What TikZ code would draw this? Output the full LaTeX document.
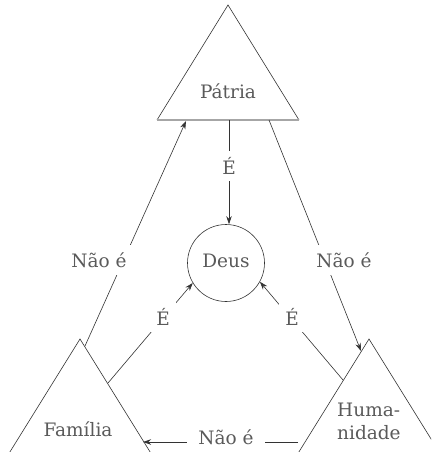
\documentclass[tikz,border=0pt]{standalone}
\usepackage{fontspec}
\setmainfont{DejaVu Serif}
\usetikzlibrary{arrows.meta}
\definecolor{txt}{HTML}{5A5A5A}
\definecolor{ln}{HTML}{333333}
\tikzset{
  edge/.style={draw=ln, line width=0.6pt},
  arr/.style={edge, -{Stealth[length=8pt,width=5.5pt]}},
  lab/.style={text=txt, font=\fontsize{18.5}{23}\selectfont, inner sep=0pt, anchor=base},
  elab/.style={lab, fill=white, inner xsep=6pt, inner ysep=6pt, anchor=center},
}
\begin{document}
\begin{tikzpicture}[x=1pt, y=-1pt]
\useasboundingbox (0,0) rectangle (431,452);
\fill[white] (0,0) rectangle (431,452);
% triangle vertices
\coordinate (pA) at (228,5);
\coordinate (pL) at (157,120);
\coordinate (pR) at (299,120);
\coordinate (fA) at (80,339);
\coordinate (fL) at (8,455);
\coordinate (fR) at (152,455);
\coordinate (hA) at (369,339);
\coordinate (hL) at (297,455);
\coordinate (hR) at (441,455);
\begin{scope}
\clip (0,0) rectangle (431,452);
\draw[edge] (pL) -- (pA) -- (pR);
\draw[draw=gray!70, line width=1.1pt] (pL) -- (pR);
\draw[edge] (fL) -- (fA) -- (fR);
\draw[edge] (hL) -- (hA) -- (hR);
\end{scope}
% texts
\node[lab] (patria) at (228,98) {Pátria};
\node[lab] (familia) at (78,436) {Família};
\node[lab, align=left, anchor=north west] (humanidade) at (337,403) {Huma-\\nidade};
\node[draw=ln, line width=0.6pt, circle, minimum size=77pt, text=txt,
      font=\fontsize{18.5}{23}\selectfont, text height=13.5pt, text depth=5pt, inner sep=0pt]
      (deus) at (226,263) {Deus};
% connector endpoints
\coordinate (p1) at (229,120);
\coordinate (pl) at (186,121);
\coordinate (pr) at (269,120);
\coordinate (f1) at (85,346);
\coordinate (f2) at (108,383);
\coordinate (f3) at (143,442);
\coordinate (h1) at (361,351);
\coordinate (h2) at (343,380);
\coordinate (h3) at (298,442);
% connectors
\draw[arr] (p1) -- (deus.north -| p1);
\draw[arr] (f1) -- (pl);
\draw[arr] (pr) -- (h1);
\draw[arr] (f2) -- (deus.211);
\draw[arr] (h2) -- (deus.331);
\draw[arr] (h3) -- (f3);
% connector labels
\node[elab] (l1) at (229,166) {É};
\node[elab] (l2) at (163,317) {É};
\node[elab] (l3) at (292,317) {É};
\node[elab, inner ysep=7pt] (l4) at (99,260) {Não é};
\node[elab, inner ysep=7pt] (l5) at (344,260) {Não é};
\node[elab, inner xsep=11pt, inner ysep=4pt] (l6) at (226,437) {Não é};
\end{tikzpicture}
\end{document}
